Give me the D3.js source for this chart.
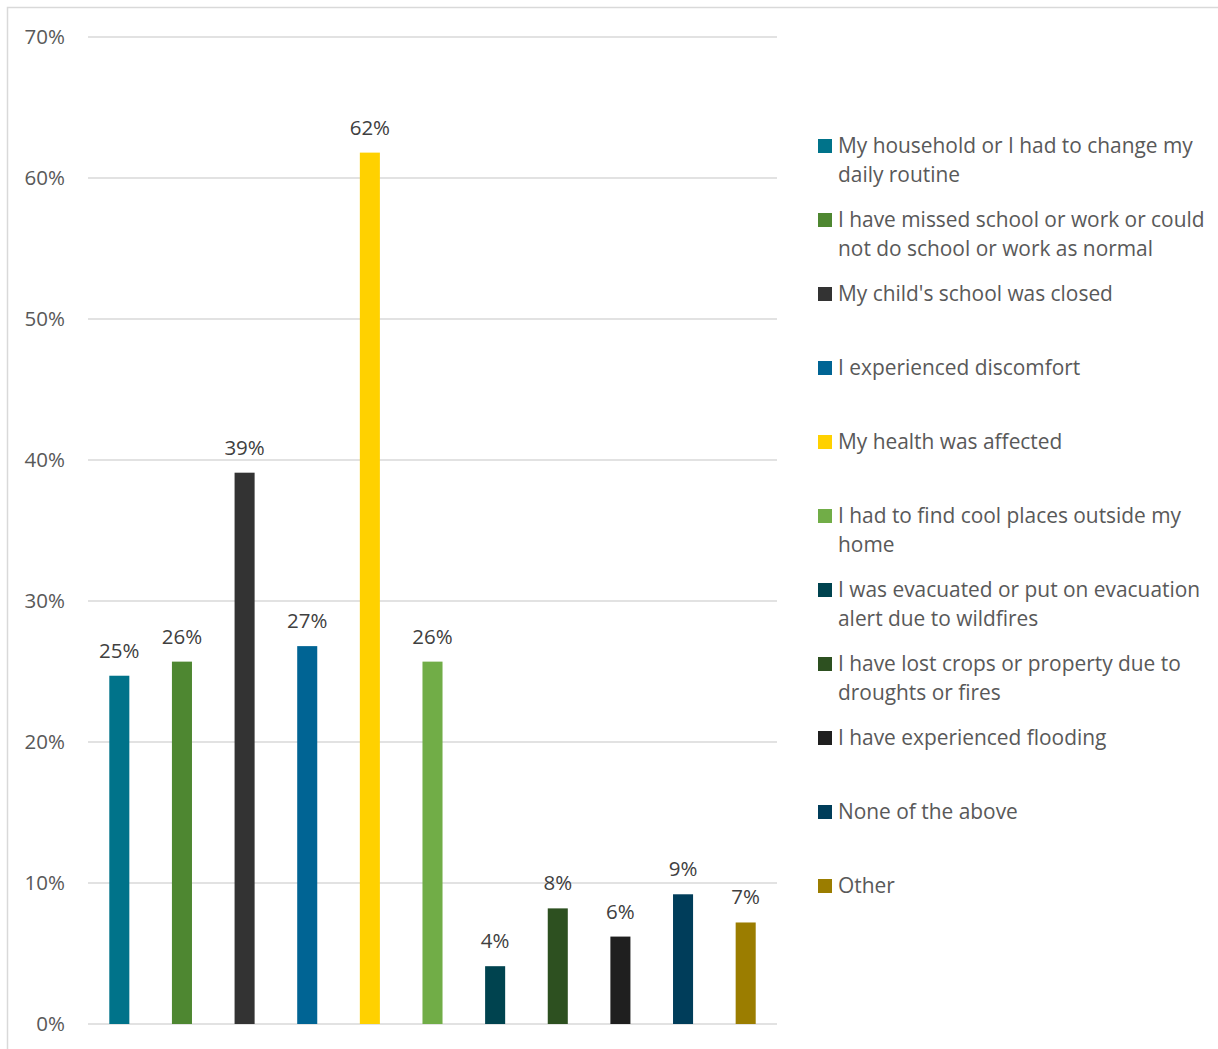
<!DOCTYPE html>
<html>
<head>
<meta charset="utf-8">
<script src="https://cdn.jsdelivr.net/npm/d3@7"></script>
<style>
    body { margin: 0; background: #fff; }
    svg { display: block; font-family: "Open Sans", sans-serif; }
</style>
</head>
<body>
<svg width="1218" height="1049"></svg>
<script>
// categories (one bar each) and their share of respondents
var categories = [
    'My household or I had to change my daily routine',
    'I have missed school or work or could not do school or work as normal',
    "My child's school was closed",
    'I experienced discomfort',
    'My health was affected',
    'I had to find cool places outside my home',
    'I was evacuated or put on evacuation alert due to wildfires',
    'I have lost crops or property due to droughts or fires',
    'I have experienced flooding',
    'None of the above',
    'Other'
];
var values = [0.247, 0.257, 0.391, 0.268, 0.618, 0.257, 0.041, 0.082, 0.062, 0.092, 0.072];
var barLabels = ['25%', '26%', '39%', '27%', '62%', '26%', '4%', '8%', '6%', '9%', '7%'];
var colors = ['#00738A', '#4E8731', '#333333', '#006494', '#FFD100', '#71AD47',
    '#00434F', '#2D5020', '#1F1F1F', '#003D5A', '#9B7D00'];
// legend lines, wrapped as in the picture
var legendLines = [
    ['My household or I had to change my', 'daily routine'],
    ['I have missed school or work or could', 'not do school or work as normal'],
    ["My child's school was closed"],
    ['I experienced discomfort'],
    ['My health was affected'],
    ['I had to find cool places outside my', 'home'],
    ['I was evacuated or put on evacuation', 'alert due to wildfires'],
    ['I have lost crops or property due to', 'droughts or fires'],
    ['I have experienced flooding'],
    ['None of the above'],
    ['Other']
];
var yTicks = [0, 0.1, 0.2, 0.3, 0.4, 0.5, 0.6, 0.7];

var svg = d3.select('svg');

// chart frame (only top and left edges are in view)
svg.append('path')
    .attr('d', 'M7.5,1049 V7.5 H1218')
    .attr('fill', 'none')
    .attr('stroke', '#D9D9D9')
    .attr('stroke-width', 1.5);

var plot = { left: 88, right: 777, top: 37, bottom: 1024 };

var x = d3.scaleBand()
    .domain(d3.range(categories.length))
    .range([plot.left, plot.right])
    .paddingInner(0.68)
    .paddingOuter(0.34);

var y = d3.scaleLinear()
    .domain([0, 0.7])
    .range([plot.bottom, plot.top]);

// gridlines
svg.append('g')
    .selectAll('line')
    .data(yTicks)
    .enter()
    .append('line')
    .attr('x1', plot.left)
    .attr('x2', plot.right)
    .attr('y1', function (d) { return y(d); })
    .attr('y2', function (d) { return y(d); })
    .attr('stroke', '#D9D9D9')
    .attr('stroke-width', 1.5);

// y axis labels
var yAxis = d3.axisLeft(y)
    .tickValues(yTicks)
    .tickFormat(d3.format('.0%'))
    .tickSize(0)
    .tickPadding(0);

var yg = svg.append('g')
    .attr('transform', 'translate(65,0)')
    .call(yAxis);
yg.select('.domain').remove();
yg.selectAll('text')
    .attr('fill', '#595959')
    .style('font-size', '20.5px')
    .style('font-family', '"Open Sans", sans-serif');

// bars
svg.append('g')
    .selectAll('rect')
    .data(values)
    .enter()
    .append('rect')
    .attr('x', function (d, i) { return x(i); })
    .attr('y', function (d) { return y(d); })
    .attr('width', x.bandwidth())
    .attr('height', function (d) { return y(0) - y(d); })
    .attr('fill', function (d, i) { return colors[i]; });

// value labels
svg.append('g')
    .selectAll('text')
    .data(values)
    .enter()
    .append('text')
    .attr('x', function (d, i) { return x(i) + x.bandwidth() / 2; })
    .attr('y', function (d) { return y(d) - 18; })
    .attr('text-anchor', 'middle')
    .attr('fill', '#404040')
    .style('font-size', '20.5px')
    .text(function (d, i) { return barLabels[i]; });

// legend
var legend = svg.append('g')
    .selectAll('g')
    .data(categories)
    .enter()
    .append('g')
    .attr('transform', function (d, i) { return 'translate(818,' + (146 + i * 74) + ')'; });

legend.append('rect')
    .attr('x', 0)
    .attr('y', -7)
    .attr('width', 14)
    .attr('height', 14)
    .attr('fill', function (d, i) { return colors[i]; });

legend.append('text')
    .attr('x', 20)
    .attr('fill', '#595959')
    .style('font-size', '20.9px')
    .selectAll('tspan')
    .data(function (d, i) { return legendLines[i]; })
    .enter()
    .append('tspan')
    .attr('x', 20)
    .attr('y', function (d, j) { return 7 + j * 29; })
    .text(function (d) { return d; });
</script>
</body>
</html>
